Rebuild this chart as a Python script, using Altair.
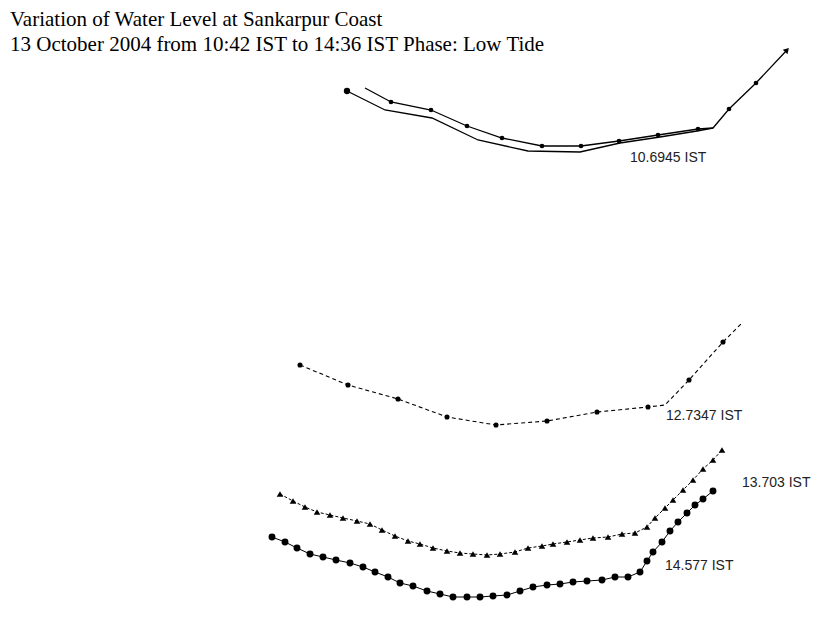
import altair as alt
import pandas as pd

# Title lines
title_lines = [
    "Variation of Water Level at  Sankarpur Coast",
    "13 October 2004 from 10:42 IST to 14:36 IST Phase: Low Tide",
]

# Profile 10.6945 IST - upper trace (with markers)
s1u_x = [365, 391, 431, 467, 502, 542, 581, 619, 658, 698, 713, 729, 756, 787]
s1u_y = [88, 102, 110, 126, 138, 146, 146, 141, 135, 129, 128, 109, 83, 50]
s1u_m = [0, 1, 1, 1, 1, 1, 1, 1, 1, 1, 0, 1, 1, 0]

# Profile 10.6945 IST - lower trace
s1l_x = [347, 385, 432, 478, 528, 580, 620, 660, 697, 713]
s1l_y = [91, 110, 118, 140, 151, 152, 143, 137, 131, 128]

# Profile 12.7347 IST (dashed)
s2_x = [300, 348, 398, 447, 496, 547, 597, 648, 665, 689, 723, 743]
s2_y = [365, 385, 399, 417, 425, 421, 412, 407, 405, 380, 342, 322]
s2_m = [1, 1, 1, 1, 1, 1, 1, 1, 0, 1, 1, 0]

# Profile 13.703 IST (triangles)
s3_x = [280, 293, 305, 317, 330, 343, 357, 370, 382, 395, 408, 420, 433, 447, 460,
        473, 487, 500, 515, 528, 542, 553, 567, 580, 593, 608, 622, 635, 647, 655,
        665, 673, 683, 693, 703, 713, 722]
s3_y = [494, 501, 507, 512, 515, 518, 521, 524, 530, 536, 541, 544, 548, 551, 553,
        554, 555, 554, 552, 548, 546, 544, 542, 540, 538, 537, 534, 533, 527, 518,
        508, 500, 490, 480, 469, 460, 450]

# Profile 14.577 IST (dots)
s4_x = [272, 285, 297, 310, 323, 336, 350, 363, 375, 388, 400, 413, 427, 440, 453,
        467, 480, 493, 507, 520, 533, 547, 560, 573, 587, 602, 615, 628, 640, 647,
        653, 662, 670, 678, 687, 695, 703, 713]
s4_y = [537, 542, 548, 554, 557, 560, 563, 567, 572, 577, 583, 586, 591, 594, 597,
        597, 597, 596, 595, 591, 587, 585, 584, 582, 581, 580, 577, 577, 572, 561,
        552, 542, 531, 522, 513, 505, 499, 491]

# Labels
label_text = ["10.6945 IST", "12.7347 IST", "13.703 IST", "14.577 IST"]
label_x = [630, 666, 742, 665]
label_y = [158, 416, 483, 566]


def frame(xs, ys, marks=None):
    d = pd.DataFrame({"dist": xs, "depth": ys, "i": list(range(len(xs)))})
    d["m"] = marks if marks is not None else [1] * len(xs)
    return d


d1u = frame(s1u_x, s1u_y, s1u_m)
d1l = frame(s1l_x, s1l_y)
d2 = frame(s2_x, s2_y, s2_m)
d3 = frame(s3_x, s3_y)
d4 = frame(s4_x, s4_y)
dlab = pd.DataFrame({"dist": label_x, "depth": label_y, "t": label_text})

X = alt.X("dist:Q", scale=alt.Scale(domain=[8, 812], nice=False, zero=False), axis=None)
Y = alt.Y("depth:Q", scale=alt.Scale(domain=[8, 627], nice=False, zero=False, reverse=True), axis=None)

def line(d, **kw):
    return alt.Chart(d).mark_line(color="black", **kw).encode(x=X, y=Y, order="i:Q")

def pts(d, **kw):
    return alt.Chart(d).transform_filter("datum.m == 1").mark_point(
        color="black", filled=True, opacity=1, **kw).encode(x=X, y=Y)

layers = [
    line(d1u, strokeWidth=1.3),
    pts(d1u, shape="circle", size=22),
    line(d1l, strokeWidth=1.3),
    pts(d1l.iloc[[0]], shape="circle", size=40),
    pts(d1u.iloc[[-1]].assign(m=1), shape="triangle-up", size=40, angle=43),
    line(d2, strokeWidth=1.1, strokeDash=[4, 3]),
    pts(d2, shape="circle", size=26),
    line(d3, strokeWidth=1, strokeDash=[3, 2]),
    pts(d3, shape="triangle-up", size=44),
    line(d4, strokeWidth=1),
    pts(d4, shape="circle", size=48),
    alt.Chart(dlab).mark_text(align="left", baseline="middle", font="Liberation Sans",
                              fontSize=14, color="#222222").encode(x=X, y=Y, text="t:N"),
]

for k, (tl, yy) in enumerate(zip(title_lines, [18, 43])):
    layers.append(
        alt.Chart(pd.DataFrame({"t": [tl]})).mark_text(
            align="left", baseline="alphabetic", font="Liberation Serif",
            fontSize=21, color="black").encode(x=alt.value(2), y=alt.value(yy), text="t:N")
    )

chart = alt.layer(*layers).properties(
    width=804, height=619, padding=0, autosize=alt.AutoSizeParams(type="none"),
    background="white"
).configure_view(strokeWidth=0)

chart.save("out.html", embed_options={"renderer": "svg", "actions": False})
